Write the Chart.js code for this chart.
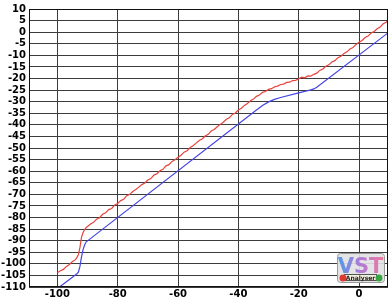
<!DOCTYPE html>
<html>
<head>
<meta charset="utf-8">
<script src="https://cdn.jsdelivr.net/npm/chart.js@4/dist/chart.umd.min.js"></script>
<style>
  html, body { margin: 0; padding: 0; background: #fff; }
  canvas { display: block; }
</style>
</head>
<body>
<canvas id="curveChart" width="392" height="300"></canvas>
<script>
// tick labels
const xTicks = [-100, -80, -60, -40, -20, 0];
const yTicks = [10, 5, 0, -5, -10, -15, -20, -25, -30, -35, -40, -45, -50, -55, -60,
    -65, -70, -75, -80, -85, -90, -95, -100, -105, -110];

// measured (red) curve
const redX = [-100, -99, -98, -97, -96, -95, -94, -93.5, -93, -92.5, -92, -91.5, -91, -90.5,
    -90, -89, -88, -87, -86, -85, -84, -83, -82, -81, -80, -79, -78, -77, -76, -75, -74, -73,
    -72, -71, -70, -69, -68, -67, -66, -65, -64, -63, -62, -61, -60, -59, -58, -57, -56, -55,
    -54, -53, -52, -51, -50, -49, -48, -47, -46, -45, -44, -43, -42, -41, -40, -39, -38, -37,
    -36, -35, -34, -33, -32, -31, -30, -29, -28, -27, -26, -25, -24, -23, -22, -21, -20, -19,
    -18, -17, -16, -15, -14, -13, -12, -11, -10, -9, -8, -7, -6, -5, -4, -3, -2, -1, 0, 1, 2,
    3, 4, 5, 6, 7, 8, 9, 9.6];
const redY = [-103.8, -103.0, -102.4, -101.1, -100.3, -99.0, -98.2, -97.2, -96.0, -92.8, -88.6,
    -86.6, -85.3, -84.4, -83.9, -82.8, -82.1, -80.7, -80.1, -78.6, -78.0, -76.6, -76.1, -74.6,
    -74.0, -72.7, -72.1, -70.6, -70.0, -68.8, -67.9, -66.9, -65.8, -65.1, -63.8, -63.2, -61.7,
    -61.1, -59.8, -59.2, -57.7, -57.2, -55.8, -55.1, -54.0, -53.1, -51.8, -51.2, -49.8, -49.0,
    -47.9, -46.8, -46.1, -44.8, -44.1, -42.7, -42.0, -40.8, -39.8, -38.9, -37.6, -37.0, -35.5,
    -34.9, -33.6, -32.8, -31.6, -30.8, -29.6, -28.9, -27.7, -27.1, -26.0, -25.6, -24.7, -24.4,
    -23.6, -23.3, -22.6, -22.4, -21.7, -21.6, -20.9, -20.8, -20.1, -19.4, -19.7, -18.9, -19.0,
    -18.2, -17.7, -16.5, -15.9, -14.7, -14.1, -12.9, -12.3, -11.0, -10.4, -9.2, -8.5, -7.3,
    -6.6, -5.3, -4.4, -3.6, -2.3, -1.7, -0.4, 0.3, 1.5, 2.2, 3.6, 4.3, 5.2];

// ideal (blue) curve
const blueX = [-100, -93.5, -93, -92.5, -92, -91.5, -91, -90.5, -90, -34, -32, -30, -28, -26,
    -20, -16, -15, -14, 9.6];
const blueY = [-110.7, -104.3, -103.5, -101, -97, -94, -92, -90.6, -90.1, -33.6, -31.7, -30.1,
    -29.0, -28.2, -26.2, -24.9, -24.5, -23.8, -0.3];

const toPoints = (xs, ys) => xs.map((x, i) => ({ x: x, y: ys[i] }));
const tickFont = { family: 'DejaVu Sans', size: 10, weight: 'bold' };

// frame round the plot
const frame = {
    id: 'frame',
    afterDatasetsDraw(chart) {
        const a = chart.chartArea, g = chart.ctx;
        g.save();
        g.strokeStyle = '#111';
        g.lineWidth = 1;
        g.strokeRect(a.left + 0.5, a.top + 0.5, a.right - a.left - 1, a.bottom - a.top - 1);
        g.restore();
    }
};

// small "VST Analyser" badge in the corner
const badge = {
    id: 'badge',
    afterDraw(chart) {
        const g = chart.ctx;
        const x = 337, y = 253, w = 47, h = 29;
        g.save();
        g.fillStyle = 'rgba(225,225,228,0.9)';
        g.strokeStyle = '#9a9a9a';
        g.lineWidth = 1;
        g.beginPath();
        g.roundRect(x + 0.5, y + 0.5, w, h, 3);
        g.fill();
        g.stroke();

        const grad = g.createLinearGradient(x, 0, x + w, 0);
        grad.addColorStop(0, '#4f9be6');
        grad.addColorStop(0.5, '#b07ad8');
        grad.addColorStop(1, '#f07a9a');
        g.fillStyle = grad;
        g.font = 'bold 21px DejaVu Sans';
        g.textAlign = 'center';
        g.textBaseline = 'alphabetic';
        g.fillText('VST', x + w / 2, y + 20);

        g.fillStyle = '#f3f1e0';
        g.strokeStyle = '#555';
        g.fillRect(x + 7, y + 21, w - 14, 7);
        g.strokeRect(x + 7.5, y + 21.5, w - 15, 6);
        g.fillStyle = '#222';
        g.font = 'bold 6px DejaVu Sans';
        g.textBaseline = 'middle';
        g.fillText('Analyser', x + w / 2, y + 25);

        g.fillStyle = '#e0392e';
        g.beginPath(); g.arc(x + 6, y + 25, 3.5, 0, Math.PI * 2); g.fill();
        g.fillStyle = '#3aa540';
        g.beginPath(); g.arc(x + w - 5, y + 25, 3.5, 0, Math.PI * 2); g.fill();
        g.restore();
    }
};

const ctx = document.getElementById('curveChart').getContext('2d');
const curveChart = new Chart(ctx, {
    type: 'line',
    data: {
        datasets: [{
            label: 'Measured',
            data: toPoints(redX, redY),
            borderColor: '#e8433c',
            borderWidth: 1.2,
            pointRadius: 0,
            tension: 0
        }, {
            label: 'Ideal',
            data: toPoints(blueX, blueY),
            borderColor: '#4444e4',
            borderWidth: 1.2,
            pointRadius: 0,
            tension: 0
        }]
    },
    options: {
        responsive: false,
        animation: false,
        devicePixelRatio: 1,
        layout: { padding: { top: 4, right: 4, left: 0, bottom: 0 } },
        plugins: {
            legend: { display: false },
            tooltip: { enabled: false }
        },
        scales: {
            x: {
                type: 'linear',
                min: -109.4,
                max: 9.6,
                afterBuildTicks: (scale) => { scale.ticks = xTicks.map(v => ({ value: v })); },
                afterFit: (scale) => { scale.height = 13; },
                grid: { color: '#3c3c3c', drawTicks: false },
                border: { display: false },
                ticks: { font: tickFont, color: '#000', padding: 1, maxRotation: 0, autoSkip: false }
            },
            y: {
                type: 'linear',
                min: -110,
                max: 10,
                afterBuildTicks: (scale) => { scale.ticks = yTicks.map(v => ({ value: v })); },
                afterFit: (scale) => { scale.width = 29; },
                grid: { color: '#3c3c3c', drawTicks: false },
                border: { display: false },
                ticks: { font: tickFont, color: '#000', padding: 3, autoSkip: false }
            }
        }
    },
    plugins: [frame, badge]
});
</script>
</body>
</html>
